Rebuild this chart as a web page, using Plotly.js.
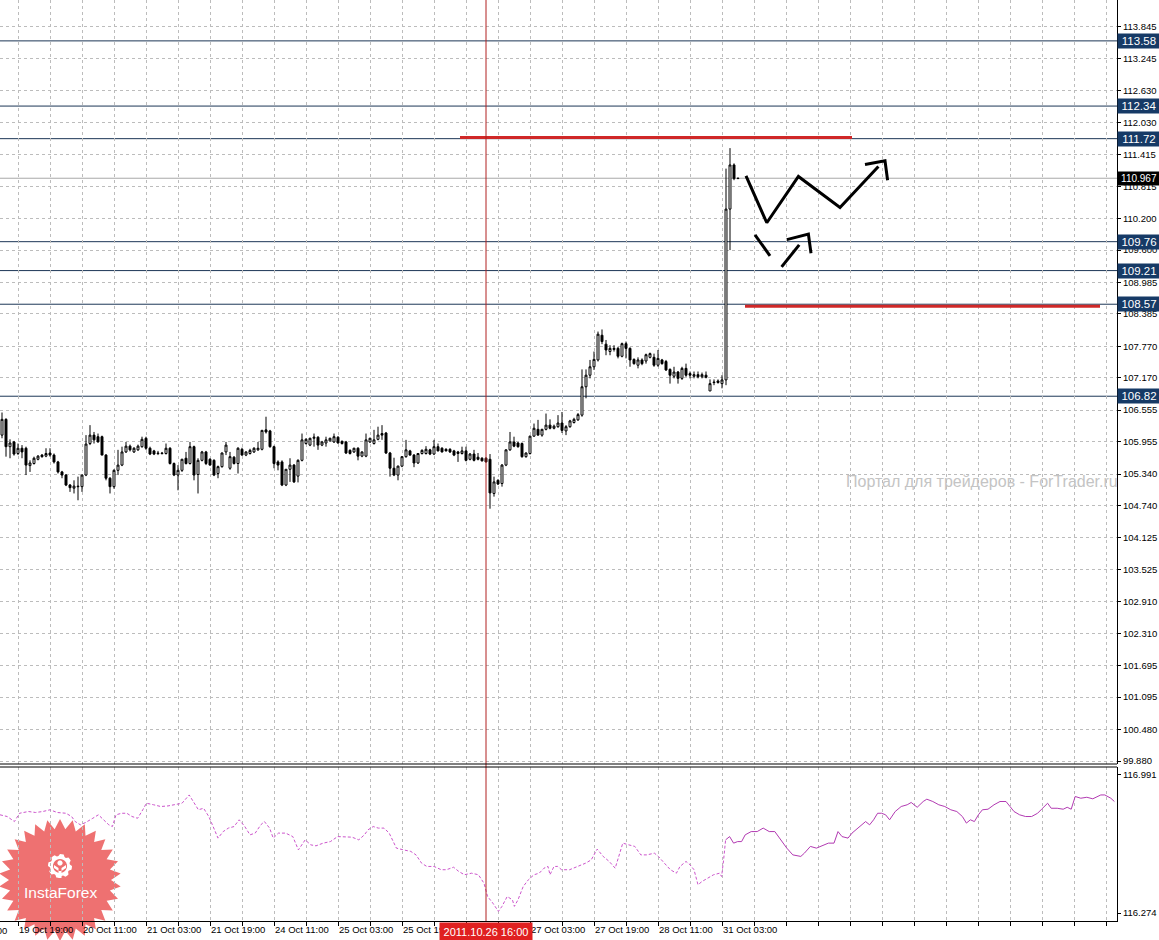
<!DOCTYPE html>
<html>
<head>
<meta charset="utf-8">
<script src="https://cdn.plot.ly/plotly-3.0.1.min.js"></script>
<style>html,body{margin:0;padding:0;background:#fff;}#chart{width:1159px;height:940px;}</style>
</head>
<body>
<div id="chart"></div>
<script>
// ---------- DATA (USD/JPY H1, bar index 0 = 19 Oct 15:00) ----------
const barOpen = [106.08,106.38,105.86,105.95,105.73,105.83,105.83,105.50,105.54,105.62,
105.70,105.68,105.74,105.70,105.57,105.38,105.32,105.13,105.07,105.11,
105.10,105.32,105.92,106.08,106.05,106.05,105.70,105.26,105.10,105.41,
105.51,105.76,105.87,105.76,105.80,105.86,106.02,105.83,105.78,105.74,
105.74,105.73,105.83,105.54,105.32,105.41,105.64,105.54,105.86,105.33,
105.60,105.76,105.62,105.60,105.35,105.48,105.76,105.45,105.66,105.54,
105.81,105.70,105.73,105.76,105.80,105.81,106.18,106.16,105.86,105.57,
105.57,105.13,105.43,105.51,105.30,105.60,105.92,105.89,106.02,106.04,
105.89,105.93,105.97,105.95,106.04,105.96,105.95,105.79,105.76,105.83,
105.68,105.68,105.95,105.92,106.00,106.11,106.12,105.74,105.45,105.32,
105.49,105.67,105.78,105.70,105.55,105.73,105.73,105.80,105.72,105.86,
105.83,105.81,105.81,105.78,105.76,105.73,105.78,105.62,105.72,105.66,
105.64,105.64,105.62,104.97,105.22,105.16,105.51,105.80,105.95,105.93,
105.92,105.67,105.73,106.06,106.19,106.08,106.19,106.27,106.21,106.24,
106.31,106.16,106.24,106.32,106.37,106.46,107.00,107.22,107.38,107.51,
107.98,107.81,107.67,107.71,107.73,107.58,107.82,107.73,107.52,107.41,
107.51,107.49,107.56,107.56,107.41,107.51,107.48,107.33,107.20,107.28,
107.16,107.35,107.25,107.20,107.23,107.19,107.22,106.92,107.09,107.11,
107.06,107.13,110.38,111.22,110.96];
const barHigh = [106.51,106.40,106.00,105.97,105.92,105.89,105.86,105.60,105.67,105.70,
105.72,105.83,105.83,105.73,105.59,105.40,105.34,105.15,105.22,105.29,
105.33,106.08,106.27,106.14,106.11,106.07,105.72,105.28,105.43,105.80,
105.86,105.95,105.90,105.85,105.90,106.05,106.05,105.86,105.80,105.78,
105.76,105.92,105.85,105.56,105.51,105.63,105.76,105.95,105.88,105.64,
105.78,105.78,105.64,105.62,105.50,105.75,105.95,105.76,105.68,105.85,
105.84,105.77,105.82,105.85,105.95,106.18,106.43,106.18,105.88,105.60,
105.60,105.43,105.64,105.53,105.62,106.11,106.02,106.03,106.11,106.06,
105.97,106.05,106.03,106.11,106.06,105.98,105.97,105.81,105.84,105.85,
105.77,106.11,106.03,106.18,106.24,106.27,106.14,105.76,105.65,105.50,
105.68,105.99,105.80,105.72,105.74,105.81,105.87,105.82,105.99,105.92,
105.85,105.83,105.83,105.80,105.78,105.86,105.86,105.74,105.80,105.74,
105.66,105.66,105.72,105.29,105.24,105.53,105.81,106.14,106.05,105.95,
105.94,105.75,106.07,106.30,106.37,106.20,106.49,106.38,106.28,106.46,
106.52,106.27,106.37,106.41,106.50,107.33,107.33,107.51,107.67,108.05,
108.09,107.89,107.79,107.79,107.76,107.84,107.86,107.75,107.54,107.56,
107.54,107.63,107.65,107.63,107.70,107.53,107.51,107.35,107.38,107.30,
107.38,107.44,107.29,107.29,107.29,107.27,107.29,107.14,107.14,107.14,
107.22,111.15,111.54,111.25,110.97];
const barLow = [106.02,105.67,105.64,105.69,105.70,105.64,105.32,105.38,105.52,105.60,
105.65,105.66,105.67,105.54,105.35,105.26,105.11,105.00,104.97,104.84,
105.00,105.30,105.89,105.92,105.94,105.70,105.22,104.97,105.06,105.32,
105.49,105.74,105.77,105.74,105.78,105.84,105.80,105.70,105.70,105.70,
105.71,105.71,105.52,105.30,105.03,105.38,105.52,105.52,105.22,104.97,
105.58,105.51,105.50,105.30,105.26,105.46,105.70,105.42,105.52,105.35,
105.69,105.68,105.71,105.74,105.78,105.79,106.11,105.84,105.45,105.41,
105.11,105.11,105.19,105.17,105.18,105.58,105.90,105.87,105.86,105.80,
105.87,105.86,105.96,105.93,105.92,105.90,105.72,105.71,105.74,105.60,
105.66,105.66,105.93,105.90,105.98,105.99,105.72,105.29,105.30,105.22,
105.47,105.65,105.69,105.47,105.53,105.71,105.71,105.70,105.70,105.77,
105.75,105.77,105.74,105.68,105.57,105.71,105.58,105.60,105.58,105.60,
105.58,105.56,104.68,104.91,105.13,105.10,105.49,105.78,105.85,105.84,
105.65,105.65,105.71,106.05,106.07,106.05,106.17,106.19,106.19,106.22,
106.12,106.08,106.22,106.30,106.35,106.43,106.78,107.16,107.32,107.48,
107.81,107.60,107.60,107.67,107.54,107.56,107.54,107.38,107.42,107.35,
107.41,107.44,107.54,107.38,107.38,107.42,107.30,107.06,107.16,107.06,
107.13,107.19,107.16,107.16,107.16,107.16,107.16,106.92,107.03,107.06,
106.97,107.03,109.60,110.93,110.96];
const barClose = [106.38,105.86,105.93,105.72,105.83,105.76,105.51,105.55,105.64,105.68,
105.67,105.73,105.70,105.57,105.38,105.32,105.13,105.08,105.11,105.10,
105.32,105.91,106.08,105.99,105.95,105.70,105.26,105.10,105.41,105.51,
105.76,105.87,105.80,105.83,105.87,106.00,105.83,105.72,105.72,105.73,
105.73,105.83,105.54,105.32,105.41,105.62,105.54,105.86,105.32,105.60,
105.76,105.54,105.51,105.32,105.48,105.74,105.89,105.67,105.54,105.83,
105.70,105.76,105.79,105.83,105.83,106.17,106.14,105.86,105.54,105.51,
105.13,105.43,105.51,105.19,105.60,105.99,106.00,106.02,106.04,105.89,
105.95,105.99,106.02,106.05,105.93,105.92,105.74,105.73,105.83,105.68,
105.76,105.99,106.02,105.99,106.08,106.08,105.74,105.45,105.32,105.49,
105.67,105.80,105.70,105.55,105.73,105.79,105.81,105.72,105.86,105.78,
105.76,105.78,105.76,105.70,105.73,105.78,105.60,105.72,105.60,105.62,
105.59,105.57,104.98,105.19,105.15,105.51,105.80,105.95,105.87,105.86,
105.67,105.74,106.06,106.21,106.08,106.19,106.27,106.21,106.25,106.31,
106.17,106.24,106.35,106.38,106.47,107.00,107.22,107.38,107.52,108.00,
107.86,107.70,107.73,107.73,107.58,107.82,107.73,107.51,107.44,107.51,
107.44,107.61,107.63,107.41,107.54,107.44,107.32,107.22,107.28,107.16,
107.35,107.22,107.22,107.23,107.19,107.23,107.18,107.06,107.08,107.08,
107.13,110.38,111.22,110.96,110.967];

// Lower-window line (bar index, value); dashed part then solid part
const sigDashIdx = [-0.5,1.3,3.1,4.4,6.6,8.4,10.2,12.0,13.8,16.0,17.4,18.3,19.6,20.9,22.7,24.1,25.4,26.7,27.6,28.5,29.9,31.2,32.5,33.9,35.2,36.1,37.9,39.7,41.5,43.3,45.0,46.8,48.2,49.1,50.4,51.7,52.6,54.0,55.3,56.6,58.0,59.3,60.7,62.0,63.3,64.7,65.6,66.9,67.8,69.1,70.9,72.7,74.1,75.0,75.8,77.2,78.5,80.3,82.1,83.9,85.7,87.5,89.2,90.6,91.5,92.8,94.1,95.5,96.8,97.7,98.6,100.4,102.2,103.5,104.9,106.2,108.0,109.8,111.1,112.9,114.2,115.6,117.4,119.1,120.5,121.4,122.7,124.1,125.0,126.3,127.6,128.1,129.0,130.3,131.6,133.0,134.3,135.5,136.5,137.0,138.0,138.9,139.9,141.9,143.9,145.9,147.3,148.8,150.3,151.8,153.3,154.7,155.2,156.7,158.2,159.7,161.2,163.1,164.1,165.6,167.1,168.6,169.5,171.0,172.0,173.0,174.0,175.0,176.5,177.9,179.4,179.9,180.4,180.9];
const sigDashVal = [116.784,116.775,116.749,116.792,116.801,116.796,116.801,116.810,116.796,116.792,116.775,116.749,116.732,116.744,116.766,116.784,116.758,116.732,116.723,116.784,116.792,116.792,116.775,116.766,116.810,116.844,116.836,116.827,116.830,116.836,116.844,116.887,116.844,116.810,116.818,116.775,116.732,116.663,116.697,116.715,116.723,116.758,116.723,116.680,116.689,116.732,116.749,116.715,116.663,116.689,116.689,116.671,116.602,116.628,116.654,116.628,116.623,116.637,116.645,116.671,116.671,116.668,116.654,116.680,116.706,116.723,116.715,116.715,116.689,116.654,116.611,116.602,116.594,116.576,116.533,116.516,116.516,116.499,116.499,116.512,116.490,116.473,116.481,116.473,116.429,116.360,116.326,116.283,116.309,116.360,116.343,116.309,116.343,116.412,116.447,116.473,116.481,116.507,116.516,116.473,116.516,116.516,116.499,116.499,116.516,116.533,116.550,116.606,116.568,116.542,116.507,116.594,116.637,116.628,116.620,116.576,116.576,116.585,116.568,116.533,116.499,116.481,116.516,116.542,116.525,116.499,116.421,116.438,116.455,116.473,116.481,116.464,116.550,116.654];
const sigSolidIdx = [180.9,181.9,182.9,183.9,184.9,185.8,187.3,188.8,190.3,191.8,193.2,194.7,196.2,197.7,199.7,200.6,202.1,203.6,205.1,206.6,208.0,209.0,210.0,211.5,212.5,214.5,215.9,216.9,217.9,218.9,219.9,220.9,221.9,223.3,224.8,226.3,227.3,228.8,230.3,231.2,232.7,234.2,235.7,237.2,238.7,240.1,241.1,242.1,243.1,244.1,245.1,246.5,248.0,249.5,251.0,252.0,253.0,254.4,255.9,257.4,258.9,259.9,261.4,262.3,263.8,265.3,266.3,267.3,268.3,269.7,271.2,272.7,274.7,275.7,277.2,278.1];
const sigSolidVal = [116.654,116.671,116.637,116.645,116.645,116.680,116.697,116.697,116.715,116.697,116.697,116.654,116.611,116.576,116.568,116.585,116.620,116.611,116.623,116.637,116.637,116.697,116.671,116.663,116.689,116.723,116.749,116.732,116.758,116.792,116.792,116.784,116.758,116.801,116.827,116.836,116.848,116.823,116.853,116.865,116.853,116.836,116.827,116.810,116.801,116.775,116.741,116.758,116.749,116.784,116.810,116.813,116.836,116.853,116.853,116.827,116.801,116.784,116.775,116.775,116.792,116.813,116.844,116.818,116.818,116.813,116.823,116.813,116.879,116.870,116.875,116.867,116.887,116.887,116.870,116.853];

// Price axis labels
const priceTicks = [113.845,113.245,112.630,112.030,111.415,110.815,110.200,109.600,108.985,108.385,107.770,107.170,106.555,105.955,105.340,104.740,104.125,103.525,102.910,102.310,101.695,101.095,100.480,99.880];
const lowerTicks = [116.274,116.991];
// Time axis labels
const timeLabels = ['19 Oct 19:00','20 Oct 11:00','21 Oct 03:00','21 Oct 19:00','24 Oct 11:00','25 Oct 03:00','25 Oct 19:00','26 Oct 11:00','27 Oct 03:00','27 Oct 19:00','28 Oct 11:00','31 Oct 03:00'];
const timeLabelBar = [4,20,36,52,68,84,100,116,132,148,164,180];
const prevLabel = '19 Oct 03:00';
// Horizontal levels
const levelPrices = [113.58,112.34,111.72,109.76,109.21,108.57,106.82];
const currentPrice = 110.967;
// Marked moment
const markerBar = 121;
const markerLabel = '2011.10.26 16:00';
// Red horizontal marker lines
const redLinePrice = [111.74,108.53];
const redLineStart = [114.5,185.75];
const redLineEnd = [212.5,274.5];
// Hand-drawn forecast strokes (bar index, price)
const strokeMainIdx = [186,191.2,199.1,209.5,219.1];
const strokeMainVal = [111.01,110.12,111.00,110.41,111.19];
const arrowMainIdx = [215.75,220.75,221.4];
const arrowMainVal = [111.23,111.30,110.93];
const strokeDownIdx = [188.25,192];
const strokeDownVal = [109.89,109.49];
const strokeUpIdx = [194.9,199.3];
const strokeUpVal = [109.28,109.70];
const arrowUpIdx = [196.2,201.6,202.25];
const arrowUpVal = [109.80,109.905,109.54];
const watermark = 'Портал для трейдеров - ForTrader.ru';
const logoText = 'InstaForex';

// ---------- BUILD ----------
const W = 1159, H = 940, ML = 0, MR = 42, MT = 0, MB = 19;
const PW = W - ML - MR, PH = H - MT - MB;
const px2x = p => p / PW;
const py2y = p => (PH - p) / PH;

const barX = barOpen.map((_, i) => i);

const traces = [];
traces.push({
  type: 'candlestick', x: barX, open: barOpen, high: barHigh, low: barLow, close: barClose,
  xaxis: 'x', yaxis: 'y',
  increasing: {line: {color: '#000', width: 1}, fillcolor: '#fff'},
  decreasing: {line: {color: '#000', width: 1}, fillcolor: '#000'},
  whiskerwidth: 0, hoverinfo: 'skip', showlegend: false
});
traces.push({type: 'scatter', mode: 'lines', x: sigDashIdx, y: sigDashVal, xaxis: 'x', yaxis: 'y2',
  line: {color: '#cc55cc', width: 1, dash: '3px,2px'}, hoverinfo: 'skip', showlegend: false});
traces.push({type: 'scatter', mode: 'lines', x: sigSolidIdx, y: sigSolidVal, xaxis: 'x', yaxis: 'y2',
  line: {color: '#b23ab2', width: 1}, hoverinfo: 'skip', showlegend: false});
[[strokeMainIdx, strokeMainVal],[arrowMainIdx, arrowMainVal],[strokeDownIdx, strokeDownVal],[strokeUpIdx, strokeUpVal],[arrowUpIdx, arrowUpVal]].forEach(s => {
  traces.push({type: 'scatter', mode: 'lines', x: s[0], y: s[1], xaxis: 'x', yaxis: 'y',
    line: {color: '#000', width: 3}, hoverinfo: 'skip', showlegend: false, cliponaxis: false});
});

// grid positions every 8 bars, labels every 16
const gridVals = [], gridText = [];
for (let v = timeLabelBar[0]; v <= 278; v += 8) {
  gridVals.push(v);
  const k = timeLabelBar.indexOf(v);
  gridText.push(k >= 0 ? timeLabels[k] : '');
}

const mainBottomPx = 764, subTopPx = 767;
const shapes = [];

// logo (drawn underneath grid and labels): starburst + gear
function polyPath(pts) {
  return 'M' + pts.map(p => px2x(p[0]).toFixed(5) + ',' + py2y(p[1]).toFixed(5)).join(' L') + ' Z';
}
const cx = 60, cy = 880, rO = 61, rI = 51, nS = 30;
const star = [];
for (let i = 0; i < nS * 2; i++) {
  const a = Math.PI * i / nS - Math.PI / 2;
  const r = i % 2 === 0 ? rO : rI;
  star.push([cx + r * Math.cos(a), cy + r * Math.sin(a)]);
}
shapes.push({type: 'path', xref: 'paper', yref: 'paper', path: polyPath(star),
  fillcolor: 'rgba(236,98,98,0.9)', line: {width: 0}, layer: 'below'});
const gx = 60, gy = 866, gear = [];
for (let i = 0; i < 40; i++) {
  const a = 2 * Math.PI * i / 40;
  const tooth = (Math.floor(i / 2.5) % 2 === 0) ? 12 : 10;
  gear.push([gx + tooth * Math.cos(a), gy + tooth * Math.sin(a)]);
}
shapes.push({type: 'path', xref: 'paper', yref: 'paper', path: polyPath(gear),
  fillcolor: '#fff', line: {width: 0}, layer: 'below'});
const inner = [];
for (let i = 0; i < 24; i++) { const a = 2 * Math.PI * i / 24; inner.push([gx + 7 * Math.cos(a), gy + 7 * Math.sin(a)]); }
shapes.push({type: 'path', xref: 'paper', yref: 'paper', path: polyPath(inner),
  fillcolor: 'rgb(238,110,110)', line: {width: 0}, layer: 'below'});
const head = [];
for (let i = 0; i < 16; i++) { const a = 2 * Math.PI * i / 16; head.push([gx + 2.6 * Math.cos(a), gy - 3 + 2.6 * Math.sin(a)]); }
shapes.push({type: 'path', xref: 'paper', yref: 'paper', path: polyPath(head), fillcolor: '#fff', line: {width: 0}, layer: 'below'});
shapes.push({type: 'path', xref: 'paper', yref: 'paper',
  path: polyPath([[gx - 6, gy - 1], [gx - 1.5, gy + 2], [gx - 1.5, gy + 12], [gx + 1.5, gy + 12], [gx + 1.5, gy + 2], [gx + 6, gy - 1], [gx + 6, gy + 2], [gx + 1.5, gy + 5], [gx - 1.5, gy + 5], [gx - 6, gy + 2]]),
  fillcolor: '#fff', line: {width: 0}, layer: 'below'});

levelPrices.forEach(p => shapes.push({type: 'line', xref: 'paper', yref: 'y', x0: 0, x1: 1, y0: p, y1: p,
  line: {color: '#1c3656', width: 1}, layer: 'between'}));
shapes.push({type: 'line', xref: 'paper', yref: 'y', x0: 0, x1: 1, y0: currentPrice, y1: currentPrice,
  line: {color: '#a8a8a8', width: 1}, layer: 'between'});
redLinePrice.forEach((p, i) => shapes.push({type: 'line', xref: 'x', yref: 'y', x0: redLineStart[i], x1: redLineEnd[i], y0: p, y1: p,
  line: {color: '#d02828', width: 3}, layer: 'above'}));
shapes.push({type: 'line', xref: 'x', yref: 'paper', x0: markerBar, x1: markerBar, y0: 0, y1: 1,
  line: {color: '#b02020', width: 1}, layer: 'above'});
shapes.push({type: 'line', xref: 'paper', yref: 'paper', x0: 0, x1: 1, y0: py2y(mainBottomPx), y1: py2y(mainBottomPx),
  line: {color: '#000', width: 1}});
shapes.push({type: 'line', xref: 'paper', yref: 'paper', x0: 0, x1: 1, y0: py2y(subTopPx), y1: py2y(subTopPx),
  line: {color: '#000', width: 1}});

const annotations = [];
levelPrices.forEach(p => annotations.push({xref: 'paper', yref: 'y', x: 1, y: p, xanchor: 'left', yanchor: 'middle',
  text: p.toFixed(2), showarrow: false, bgcolor: '#163a66', borderpad: 1, width: 40, height: 12, align: 'center',
  font: {family: 'Liberation Sans, Arial, sans-serif', size: 11.5, color: '#fff'}}));
annotations.push({xref: 'paper', yref: 'y', x: 1, y: currentPrice, xanchor: 'left', yanchor: 'middle',
  text: currentPrice.toFixed(3), showarrow: false, bgcolor: '#000', borderpad: 1, width: 40, height: 11, align: 'center',
  font: {family: 'Liberation Sans, Arial, sans-serif', size: 10, color: '#fff'}});
annotations.push({xref: 'x', yref: 'paper', x: markerBar, y: 0, xanchor: 'center', yanchor: 'top', yshift: -1,
  text: markerLabel, showarrow: false, bgcolor: '#e02020', borderpad: 2, width: 88, height: 13,
  font: {family: 'Liberation Sans, Arial, sans-serif', size: 11, color: '#fff'}});
annotations.push({xref: 'paper', yref: 'paper', x: px2x(9), y: 0, xanchor: 'right', yanchor: 'top', yshift: -2,
  text: prevLabel, showarrow: false, font: {family: 'Liberation Sans, Arial, sans-serif', size: 9.5, color: '#000'}});
annotations.push({xref: 'paper', yref: 'paper', x: px2x(982), y: py2y(481), xanchor: 'center', yanchor: 'middle',
  text: watermark, showarrow: false, font: {family: 'Liberation Sans, Arial, sans-serif', size: 16, color: '#c4c4c4'}});
annotations.push({xref: 'paper', yref: 'paper', x: px2x(60), y: py2y(892), xanchor: 'center', yanchor: 'middle',
  text: logoText, showarrow: false, font: {family: 'Liberation Sans, Arial, sans-serif', size: 15.5, color: '#fff'}});

const axFont = {family: 'Liberation Sans, Arial, sans-serif', size: 9.5, color: '#000'};
const layout = {
  width: W, height: H, margin: {l: ML, r: MR, t: MT, b: MB, pad: 0},
  paper_bgcolor: '#fff', plot_bgcolor: 'rgba(0,0,0,0)', showlegend: false,
  xaxis: {range: [-0.5, 278.75], anchor: 'y2', tickmode: 'array', tickvals: gridVals, ticktext: gridText,
    ticks: 'outside', ticklen: 4, tickcolor: '#000', tickfont: axFont, ticklabelposition: 'outside right',
    showgrid: true, gridcolor: '#bcbcbc', griddash: '3px,3px', gridwidth: 1,
    showline: true, linecolor: '#000', linewidth: 1, zeroline: false, rangeslider: {visible: false}, fixedrange: true},
  yaxis: {domain: [py2y(mainBottomPx), 1], range: [99.823, 114.358], side: 'right', anchor: 'x',
    tickmode: 'array', tickvals: priceTicks, ticktext: priceTicks.map(v => v.toFixed(3)),
    ticks: 'outside', ticklen: 3, tickcolor: '#000', tickfont: axFont,
    showgrid: true, gridcolor: '#bcbcbc', griddash: '3px,3px', gridwidth: 1,
    showline: true, linecolor: '#000', linewidth: 1, zeroline: false, fixedrange: true},
  yaxis2: {domain: [0, py2y(subTopPx)], range: [116.233, 117.032], side: 'right', anchor: 'x',
    tickmode: 'array', tickvals: lowerTicks, ticktext: lowerTicks.map(v => v.toFixed(3)),
    ticks: 'outside', ticklen: 3, tickcolor: '#000', tickfont: axFont,
    showgrid: false, showline: true, linecolor: '#000', linewidth: 1, zeroline: false, fixedrange: true},
  shapes: shapes, annotations: annotations
};
Plotly.newPlot('chart', traces, layout, {staticPlot: true, displayModeBar: false});
</script>
</body>
</html>
